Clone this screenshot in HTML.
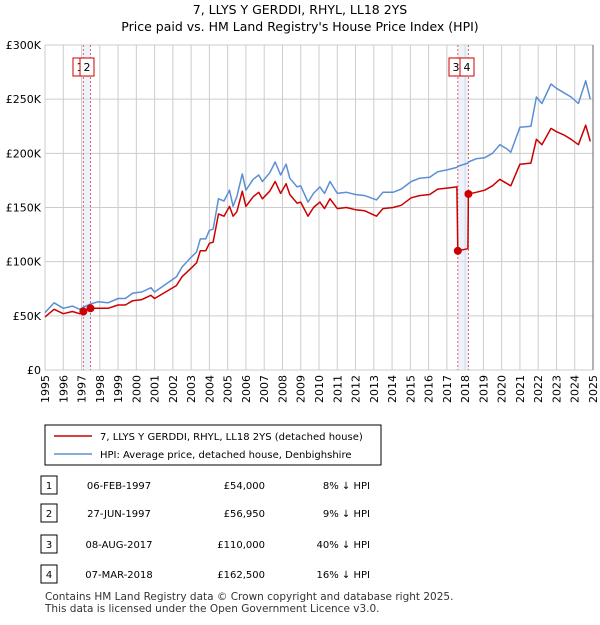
<!DOCTYPE html>
<html><head><meta charset="utf-8"><style>
body{margin:0;background:#fff;font-family:"Liberation Sans","DejaVu Sans",sans-serif;}
svg text{font-family:"DejaVu Sans","Liberation Sans",sans-serif;}
</style></head><body>
<svg id="c" width="600" height="620" viewBox="0 0 600 620" xmlns="http://www.w3.org/2000/svg">
<text x="300" y="14" text-anchor="middle" font-size="12.5">7, LLYS Y GERDDI, RHYL, LL18 2YS</text>
<text x="300" y="31" text-anchor="middle" font-size="12.5">Price paid vs. HM Land Registry's House Price Index (HPI)</text>
<g id="grid"></g><g id="plot"></g><g id="axes"></g>
<g>
<rect x="45" y="425" width="336" height="40" fill="#fff" stroke="#000" stroke-width="1"/>
<line x1="54" y1="436" x2="92" y2="436" stroke="#cc0000" stroke-width="1.5"/>
<text x="100" y="440" font-size="10">7, LLYS Y GERDDI, RHYL, LL18 2YS (detached house)</text>
<line x1="54" y1="454" x2="92" y2="454" stroke="#5b8fd4" stroke-width="1.5"/>
<text x="100" y="458" font-size="10">HPI: Average price, detached house, Denbighshire</text>
</g>
<g id="table" font-size="10"></g>
<text x="45" y="600" font-size="10.5" fill="#333">Contains HM Land Registry data © Crown copyright and database right 2025.</text>
<text x="45" y="612" font-size="10.5" fill="#333">This data is licensed under the Open Government Licence v3.0.</text>
</svg>
<script>
const dates=[1995.0,1995.5,1996.0,1996.5,1996.9,1997.1,1997.5,1997.9,1998.45,1999.0,1999.4,1999.8,2000.3,2000.8,2001.0,2001.6,2002.2,2002.5,2003.0,2003.3,2003.5,2003.8,2004.0,2004.2,2004.5,2004.8,2005.1,2005.3,2005.5,2005.8,2006.0,2006.4,2006.7,2006.9,2007.3,2007.6,2007.9,2008.2,2008.4,2008.8,2009.0,2009.4,2009.7,2010.05,2010.3,2010.6,2011.0,2011.5,2012.0,2012.5,2013.15,2013.5,2014.05,2014.5,2015.05,2015.5,2016.06,2016.5,2017.06,2017.55,2017.6,2018.15,2018.18,2018.6,2019.07,2019.5,2019.9,2020.3,2020.5,2021.0,2021.6,2021.9,2022.2,2022.7,2023.0,2023.4,2023.8,2024.2,2024.6,2024.85];
const hpi=[53,62,57,59,56,58,61,63,62,66,66,71,72,76,72,79,86,95,104,109,121,121,129,130,158,156,166,151,160,181,166,176,180,174,182,192,180,190,177,169,170,155,163,169,163,174,163,164,162,161,157,164,164,167,174,177,178,183,185,187,188,191,192,195,196,200,208,204,201,224,225,252,246,264,260,256,252,246,267,250];
const price=[49,56,52,54,52,54,57,57,57,60,60,64,65,69,66,72,78,86,94,99,110,110,117,118,144,142,151,142,146,165,151,160,164,158,165,174,163,172,162,154,155,142,150,155,149,158,149,150,148,147,142,149,150,152,159,161,162,167,168,169,110,112,162.5,164,166,170,176,172,170,190,191,213,208,223,220,217,213,208,226,211];
const saleDates=[1997.1,1997.49,2017.6,2018.18];
const saleValues=[54,56.95,110,162.5];
const saleLabels=["1","2","3","4"];
const saleDateText=["06-FEB-1997","27-JUN-1997","08-AUG-2017","07-MAR-2018"];
const salePriceText=["£54,000","£56,950","£110,000","£162,500"];
const salePctText=["8% ↓ HPI","9% ↓ HPI","40% ↓ HPI","16% ↓ HPI"];
const yTicks=[0,50,100,150,200,250,300];
const yTickLabels=["£0","£50K","£100K","£150K","£200K","£250K","£300K"];
const xYears=[1995,1996,1997,1998,1999,2000,2001,2002,2003,2004,2005,2006,2007,2008,2009,2010,2011,2012,2013,2014,2015,2016,2017,2018,2019,2020,2021,2022,2023,2024,2025];
const NS="http://www.w3.org/2000/svg";
const X0=45,X1=593,Y0=370,Y1=45;
const xs=d=>X0+(d-1995)/30*(X1-X0);
const ys=v=>Y0-v/300*(Y0-Y1);
function mk(p,tag,attrs){const e=document.createElementNS(NS,tag);for(const k in attrs)e.setAttribute(k,attrs[k]);p.appendChild(e);return e;}
const grid=document.getElementById('grid'),plot=document.getElementById('plot'),axes=document.getElementById('axes'),table=document.getElementById('table');
yTicks.forEach((t,i)=>{
 const l=mk(grid,'line',{x1:X0,x2:X1,y1:ys(t),y2:ys(t),stroke:'#cccccc','stroke-width':1});
 
 
 const tx=mk(axes,'text',{x:X0-4,y:ys(t)+4,'text-anchor':'end','font-size':11});
 tx.textContent=yTickLabels[i];
 
 
});
xYears.forEach(y=>{
 const l=mk(grid,'line',{x1:xs(y),x2:xs(y),y1:Y1,y2:Y0,stroke:'#cccccc','stroke-width':1});
 
 
 const tx=mk(axes,'text',{x:0,y:0,'text-anchor':'end','font-size':11,transform:`translate(${xs(y)+4},${Y0+5}) rotate(-90)`});
 tx.textContent=y;
 
 
});
mk(grid,'line',{x1:X1,x2:X1,y1:Y1,y2:Y0,stroke:'#666','stroke-width':1});
// shaded spans
[[0,1],[2,3]].forEach(p=>{
 const r=mk(plot,'rect',{x:xs(saleDates[p[0]]),y:Y1,width:xs(saleDates[p[1]])-xs(saleDates[p[0]]),height:Y0-Y1,fill:'#dde6f7','fill-opacity':0.5});
 
 
});
saleDates.forEach((d,i)=>{
 const l=mk(plot,'line',{x1:xs(d),x2:xs(d),y1:Y1,y2:Y0,stroke:'#e06060','stroke-width':1,'stroke-dasharray':'2,2'});
 
 
});
function line(vals,color,name){
 const pts=dates.map((d,i)=>xs(d).toFixed(1)+','+ys(vals[i]).toFixed(1)).join(' ');
 const pl=mk(plot,'polyline',{points:pts,fill:'none',stroke:color,'stroke-width':1.5,'stroke-linejoin':'round'});
 
 
}
line(hpi,'#5b8fd4','hpi-line');
line(price,'#cc0000','price-paid-line');
saleDates.forEach((d,i)=>{
 const c=mk(plot,'circle',{cx:xs(d),cy:ys(saleValues[i]),r:4,fill:'#cc0000'});
 
 
});
// labels boxes
const boxX=[73,80,449,460];
saleLabels.forEach((s,i)=>{
 const g=mk(plot,'g',{});
 
 
 mk(g,'rect',{x:boxX[i],y:58,width:14,height:18,fill:'#fff',stroke:'#cc0000','stroke-width':1});
 const t=mk(g,'text',{x:boxX[i]+7,y:71,'text-anchor':'middle','font-size':11});
 t.textContent=s;
});
// table
const rowY=[486,514,545,575];
saleLabels.forEach((s,i)=>{
 const g=mk(table,'g',{});
 
 
 mk(g,'rect',{x:41,y:rowY[i]-10,width:16,height:18,fill:'#fff',stroke:'#000','stroke-width':1});
 const n=mk(g,'text',{x:49,y:rowY[i]+3,'text-anchor':'middle'});n.textContent=s;
 const d=mk(g,'text',{x:119,y:rowY[i]+3,'text-anchor':'middle'});d.textContent=saleDateText[i];
 const p=mk(g,'text',{x:265,y:rowY[i]+3,'text-anchor':'end'});p.textContent=salePriceText[i];
 const q=mk(g,'text',{x:370,y:rowY[i]+3,'text-anchor':'end'});q.textContent=salePctText[i];
});
</script>
</body></html>
